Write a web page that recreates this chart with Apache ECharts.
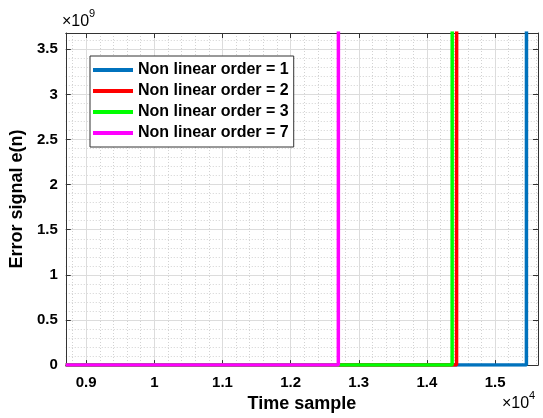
<!DOCTYPE html>
<html>
<head>
<meta charset="utf-8">
<script src="https://cdn.jsdelivr.net/npm/echarts@6/dist/echarts.min.js"></script>
<style>
  html, body { margin: 0; padding: 0; background: #fff; }
  #chart { width: 543px; height: 418px; }
</style>
</head>
<body>
<div id="chart"></div>
<script>
// series: error stays at 0, then blows up (off the top of the plot)
const seriesNames = ["Non linear order = 1", "Non linear order = 2", "Non linear order = 3", "Non linear order = 7"]
const seriesColors = ["#0072BD", "#FF0000", "#00FF00", "#FF00FF"]

const order1X = [8700, 15460, 15461]
const order1Y = [0, 0, 3.7e9]
const order2X = [8700, 14435, 14436]
const order2Y = [0, 0, 3.7e9]
const order3X = [8700, 14370, 14371]
const order3Y = [0, 0, 3.7e9]
const order7X = [8700, 12700, 12701]
const order7Y = [0, 0, 3.7e9]

const xRange = [8700, 15630]
const yRange = [0, 3.68e9]

const fontFamily = "'Liberation Sans', Arial, sans-serif"
const axisColor = "#333333"

const chart = echarts.init(document.getElementById("chart"))

function pairs(xs, ys) {
  return xs.map((x, i) => [x, ys[i]])
}

const seriesData = [
  pairs(order1X, order1Y),
  pairs(order2X, order2Y),
  pairs(order3X, order3Y),
  pairs(order7X, order7Y),
]

function axisBase() {
  return {
    axisLine: { show: true, onZero: false, lineStyle: { color: axisColor, width: 1 } },
    axisTick: { show: true, inside: true, length: 5, lineStyle: { color: axisColor } },
  }
}

chart.setOption({
  animation: false,
  backgroundColor: "#fff",
  grid: { left: 61, right: 5, top: 33, bottom: 50 },
  legend: {
    orient: "vertical",
    left: 90,
    top: 56,
    padding: [6, 5, 6, 3],
    itemGap: 5,
    itemWidth: 40,
    itemHeight: 4,
    icon: "rect",
    backgroundColor: "#fff",
    borderColor: axisColor,
    borderWidth: 1,
    borderRadius: 0,
    textStyle: { fontFamily, fontWeight: "bold", fontSize: 16, color: "#000", lineHeight: 16 },
    data: seriesNames,
  },
  xAxis: [
    {
      type: "value",
      position: "bottom",
      min: xRange[0],
      max: xRange[1],
      splitNumber: 7,
      ...axisBase(),
      axisLabel: {
        color: "#000",
        fontFamily,
        fontWeight: "bold",
        fontSize: 15,
        margin: 10,
        showMinLabel: false,
        showMaxLabel: false,
        formatter: (v) => String(+(v / 1e4).toFixed(2)),
      },
      splitLine: { show: true, lineStyle: { color: "#dcdcdc", width: 1 } },
      minorTick: { show: false, splitNumber: 5 },
      minorSplitLine: { show: true, lineStyle: { color: "#d2d2d2", width: 1, type: [1, 2] } },
      name: "Time sample",
      nameLocation: "middle",
      nameGap: 27,
      nameTextStyle: { fontFamily, fontWeight: "bold", fontSize: 18, color: "#000" },
    },
    {
      type: "value",
      position: "top",
      min: xRange[0],
      max: xRange[1],
      splitNumber: 7,
      ...axisBase(),
      axisLabel: { show: false },
      splitLine: { show: false },
    },
  ],
  yAxis: [
    {
      type: "value",
      position: "left",
      min: yRange[0],
      max: yRange[1],
      interval: 0.5e9,
      ...axisBase(),
      axisLabel: {
        color: "#000",
        fontFamily,
        fontWeight: "bold",
        fontSize: 15,
        margin: 8,
        showMaxLabel: false,
        formatter: (v) => String(+(v / 1e9).toFixed(2)),
      },
      splitLine: { show: true, lineStyle: { color: "#dcdcdc", width: 1 } },
      minorTick: { show: false, splitNumber: 5 },
      minorSplitLine: { show: true, lineStyle: { color: "#d2d2d2", width: 1, type: [1, 2] } },
      name: "Error signal e(n)",
      nameLocation: "middle",
      nameRotate: 90,
      nameGap: 36,
      nameTextStyle: { fontFamily, fontWeight: "bold", fontSize: 18, color: "#000" },
    },
    {
      type: "value",
      position: "right",
      min: yRange[0],
      max: yRange[1],
      interval: 0.5e9,
      ...axisBase(),
      axisLabel: { show: false },
      splitLine: { show: false },
    },
  ],
  graphic: [
    { type: "text", left: 62, top: 14, style: { text: "×10", fontFamily, fontSize: 16, fill: "#000" } },
    { type: "text", left: 89, top: 8, style: { text: "9", fontFamily, fontSize: 11, fill: "#000" } },
    { type: "text", left: 502, top: 396, style: { text: "×10", fontFamily, fontSize: 16, fill: "#000" } },
    { type: "text", left: 529, top: 390, style: { text: "4", fontFamily, fontSize: 11, fill: "#000" } },
  ],
  series: seriesData.map((data, i) => ({
    name: seriesNames[i],
    type: "line",
    xAxisIndex: 0,
    yAxisIndex: 0,
    data,
    showSymbol: false,
    symbol: "none",
    clip: true,
    color: seriesColors[i],
    lineStyle: { width: 3.5, color: seriesColors[i] },
    itemStyle: { color: seriesColors[i] },
    emphasis: { disabled: true },
  })),
})
</script>
</body>
</html>
